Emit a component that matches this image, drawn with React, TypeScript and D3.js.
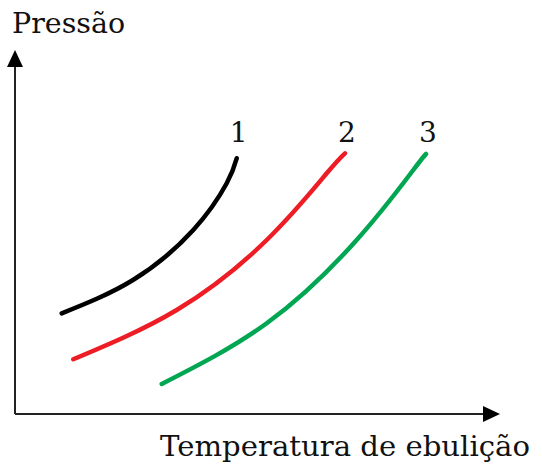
import React from "react";
import * as d3 from "d3";

const W = 542;
const H = 466;

const seriesNames = ["1", "2", "3"];
const seriesColors = ["#000000", "#ee1c24", "#00a651"];
const curve1 = [
  [9.63, 27.66], [24.33, 36.81], [36.76, 50.55], [43.65, 63.38], [45.71, 70.25],
];
const curve2 = [
  [12.02, 15.03], [33.34, 28.57], [51.9, 47.8], [64.27, 66.13], [68.04, 71.62],
];
const curve3 = [
  [30.25, 8.24], [51.9, 24.92], [70.45, 47.8], [82.12, 67.03], [84.74, 71.43],
];
const curves = [curve1, curve2, curve3];
const yLabel = "Pressão";
const xLabel = "Temperatura de ebulição";

export default function App() {
  const x = d3.scaleLinear().domain([0, 100]).range([15, 500]);
  const y = d3.scaleLinear().domain([0, 100]).range([414, 50]);
  const line = d3
    .line<number[]>()
    .x((d) => x(d[0]))
    .y((d) => y(d[1]))
    .curve(d3.curveNatural);
  const font = "'DejaVu Serif', serif";
  const x0 = x(0), y0 = y(0), xEnd = x(100), yEnd = y(100);
  return (
    <svg
      width={W}
      height={H}
      style={{ position: "absolute", left: 0, top: 0, background: "#fff" }}
    >
      <line x1={x0} y1={y0} x2={xEnd - 14} y2={y0} stroke="#222" strokeWidth={2} />
      <path d={`M${xEnd},${y0} L${xEnd - 17},${y0 - 8} L${xEnd - 17},${y0 + 8} Z`} fill="#000" />
      <line x1={x0} y1={y0} x2={x0} y2={yEnd + 14} stroke="#222" strokeWidth={2} />
      <path d={`M${x0},${yEnd} L${x0 - 8},${yEnd + 17} L${x0 + 8},${yEnd + 17} Z`} fill="#000" />
      {curves.map((c, i) => (
        <path
          key={i}
          d={line(c) || ""}
          fill="none"
          stroke={seriesColors[i]}
          strokeWidth={4.5}
          strokeLinecap="round"
        />
      ))}
      {curves.map((c, i) => {
        const last = c[c.length - 1];
        return (
          <text
            key={"l" + i}
            x={x(last[0]) + 2}
            y={142}
            textAnchor="middle"
            fontFamily={font}
            fontSize={28}
            fill="#111"
          >
            {seriesNames[i]}
          </text>
        );
      })}
      <text x={12} y={33} fontFamily={font} fontSize={28.5} fill="#111">
        {yLabel}
      </text>
      <text x={160} y={456} fontFamily={font} fontSize={28.5} fill="#111" textLength={370} lengthAdjust="spacingAndGlyphs">
        {xLabel}
      </text>
    </svg>
  );
}
